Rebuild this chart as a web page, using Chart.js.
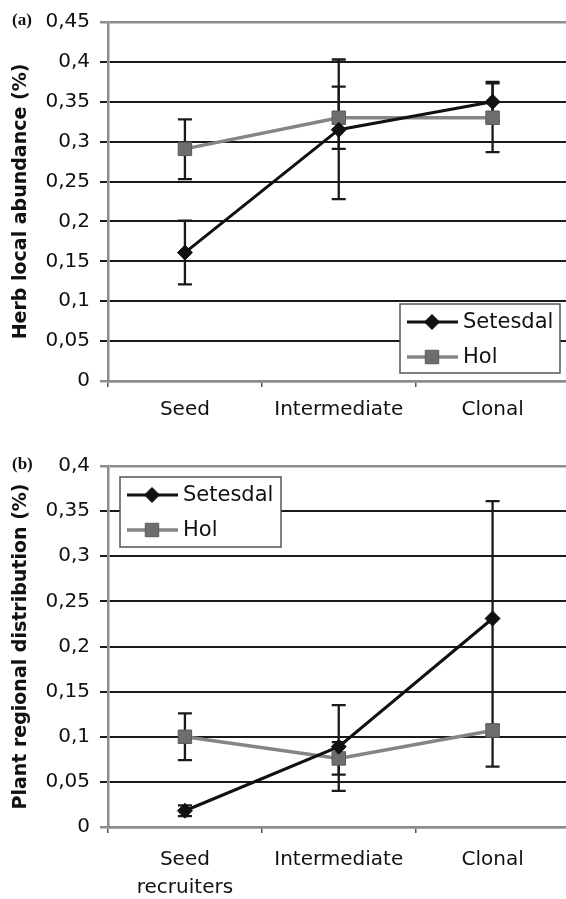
<!DOCTYPE html>
<html><head><meta charset="utf-8">
<script src="https://cdn.jsdelivr.net/npm/chart.js@4"></script>
<style>
html,body{margin:0;padding:0;background:#fff;overflow:hidden;width:566px;height:899px;}
#wrapA{position:absolute;left:0;top:0;width:580px;height:440px;}
#wrapB{position:absolute;left:0;top:440px;width:580px;height:459px;}
.panel{position:absolute;left:12px;font:bold 17px "Liberation Serif",serif;line-height:19px;color:#111;}
</style></head><body>
<div id="wrapA"><canvas id="cA" width="580" height="440"></canvas></div>
<div id="wrapB"><canvas id="cB" width="580" height="459"></canvas></div>
<div class="panel" style="top:10px">(a)</div>
<div class="panel" style="top:454px">(b)</div>
<script>
const categoriesA = ['Seed', 'Intermediate', 'Clonal'];
const categoriesB = [['Seed', 'recruiters'], 'Intermediate', 'Clonal'];
const seriesNames = ['Setesdal', 'Hol'];

// (a) Herb local abundance
const setesdalA = [0.161, 0.315, 0.350];
const setesdalLowA = [0.121, 0.228, 0.325];
const setesdalHighA = [0.201, 0.403, 0.375];
const holA = [0.291, 0.330, 0.330];
const holLowA = [0.253, 0.291, 0.287];
const holHighA = [0.328, 0.369, 0.373];

// (b) Plant regional distribution
const setesdalB = [0.018, 0.089, 0.231];
const setesdalLowB = [0.012, 0.040, 0.067];
const setesdalHighB = [0.024, 0.135, 0.361];
const holB = [0.100, 0.076, 0.107];
const holLowB = [0.074, 0.058, 0.101];
const holHighB = [0.126, 0.094, 0.113];

const yTicksA = ['0', '0,05', '0,1', '0,15', '0,2', '0,25', '0,3', '0,35', '0,4', '0,45'];
const yTicksB = ['0', '0,05', '0,1', '0,15', '0,2', '0,25', '0,3', '0,35', '0,4'];
const yTitleA = 'Herb local abundance (%)';
const yTitleB = 'Plant regional distribution (%)';

const FONT = 'DejaVu Sans';

const errorBars = {
  id: 'errorBars',
  beforeDatasetsDraw(chart) {
    const ctx = chart.ctx, ys = chart.scales.y;
    chart.data.datasets.forEach((ds, di) => {
      const meta = chart.getDatasetMeta(di);
      ds.low.forEach((lo, i) => {
        const x = meta.data[i].x;
        const yt = ys.getPixelForValue(ds.high[i]), yb = ys.getPixelForValue(lo);
        ctx.save();
        ctx.strokeStyle = '#1a1a1a';
        ctx.lineWidth = 2.3;
        ctx.beginPath();
        ctx.moveTo(x, yt); ctx.lineTo(x, yb);
        ctx.moveTo(x - 7, yt); ctx.lineTo(x + 7, yt);
        ctx.moveTo(x - 7, yb); ctx.lineTo(x + 7, yb);
        ctx.stroke();
        ctx.restore();
      });
    });
  }
};

const boxLegend = {
  id: 'boxLegend',
  afterDraw(chart, args, o) {
    const ctx = chart.ctx;
    ctx.save();
    ctx.fillStyle = '#fff';
    ctx.fillRect(o.x, o.y, o.w, o.h);
    ctx.strokeStyle = '#555';
    ctx.lineWidth = 1.5;
    ctx.strokeRect(o.x, o.y, o.w, o.h);
    chart.data.datasets.forEach((ds, i) => {
      const cy = o.y + 18 + i * 35;
      ctx.strokeStyle = ds.borderColor;
      ctx.lineWidth = ds.borderWidth;
      ctx.beginPath();
      ctx.moveTo(o.x + 7, cy); ctx.lineTo(o.x + 58, cy);
      ctx.stroke();
      ctx.fillStyle = ds.pointBackgroundColor;
      ctx.strokeStyle = ds.pointBorderColor;
      ctx.lineWidth = 1;
      Chart.helpers.drawPoint(ctx, {pointStyle: ds.pointStyle, radius: ds.pointRadius, borderWidth: 1}, o.x + 32, cy);
      ctx.fillStyle = '#111';
      ctx.font = '21px "' + FONT + '"';
      ctx.textBaseline = 'middle';
      ctx.textAlign = 'left';
      ctx.fillText(ds.label, o.x + 63, cy + 1);
    });
    ctx.restore();
  }
};

function makeChart(id, cats, s, sLo, sHi, h, hLo, hHi, yMax, yTicks, yTitle, xLH, xPad, xHeight, padTop, legendBox) {
  const isEdge = (c) => c.tick && (Math.abs(c.tick.value) < 1e-9 || Math.abs(c.tick.value - yMax) < 1e-9);
  return new Chart(document.getElementById(id), {
    type: 'line',
    data: {
      labels: cats,
      datasets: [
        {label: seriesNames[0], data: s, low: sLo, high: sHi, borderColor: '#111', borderWidth: 3,
         pointStyle: 'rectRot', pointRadius: 7.5, pointBackgroundColor: '#111', pointBorderColor: '#111',
         pointBorderWidth: 1, tension: 0, fill: false},
        {label: seriesNames[1], data: h, low: hLo, high: hHi, borderColor: '#858585', borderWidth: 3.5,
         pointStyle: 'rect', pointRadius: 9.5, pointBackgroundColor: '#6e6e6e', pointBorderColor: '#5a5a5a',
         pointBorderWidth: 1, tension: 0, fill: false}
      ]
    },
    options: {
      responsive: false, animation: false, devicePixelRatio: 1,
      layout: {padding: {top: padTop, right: 10, left: 0, bottom: 0}},
      plugins: {legend: {display: false}, tooltip: {enabled: false}, boxLegend: legendBox},
      scales: {
        x: {
          type: 'category', offset: true,
          grid: {display: true, drawOnChartArea: false, offset: true, tickLength: 6, color: '#555', lineWidth: 1.5},
          border: {display: true, color: '#8c8c8c', width: 2.5},
          ticks: {color: '#111', font: {family: FONT, size: 20, lineHeight: xLH}, padding: xPad, maxRotation: 0, autoSkip: false},
          afterFit(sc) { sc.height = xHeight; }
        },
        y: {
          min: 0, max: yMax,
          ticks: {stepSize: 0.05, color: '#111', font: {family: FONT, size: 20}, padding: 10,
                  callback: (v) => yTicks[Math.round(v / 0.05)]},
          grid: {
            tickLength: 8,
            color: (c) => isEdge(c) ? '#8c8c8c' : '#1a1a1a',
            lineWidth: (c) => isEdge(c) ? 2.5 : 2
          },
          border: {color: '#8c8c8c', width: 2.5},
          title: {display: true, text: yTitle, color: '#111', font: {family: FONT, size: 19, weight: 'bold'}, padding: {top: 10, bottom: 0}},
          afterFit(sc) { sc.width = 108; }
        }
      }
    },
    plugins: [errorBars, boxLegend]
  });
}

makeChart('cA', categoriesA, setesdalA, setesdalLowA, setesdalHighA, holA, holLowA, holHighA, 0.45, yTicksA, yTitleA,
          1.2, 11, 59, 21, {x: 400, y: 304, w: 160, h: 69});
makeChart('cB', categoriesB, setesdalB, setesdalLowB, setesdalHighB, holB, holLowB, holHighB, 0.4, yTicksB, yTitleB,
          1.4, 13, 72, 26, {x: 120, y: 37, w: 161, h: 70});
</script>
</body></html>
